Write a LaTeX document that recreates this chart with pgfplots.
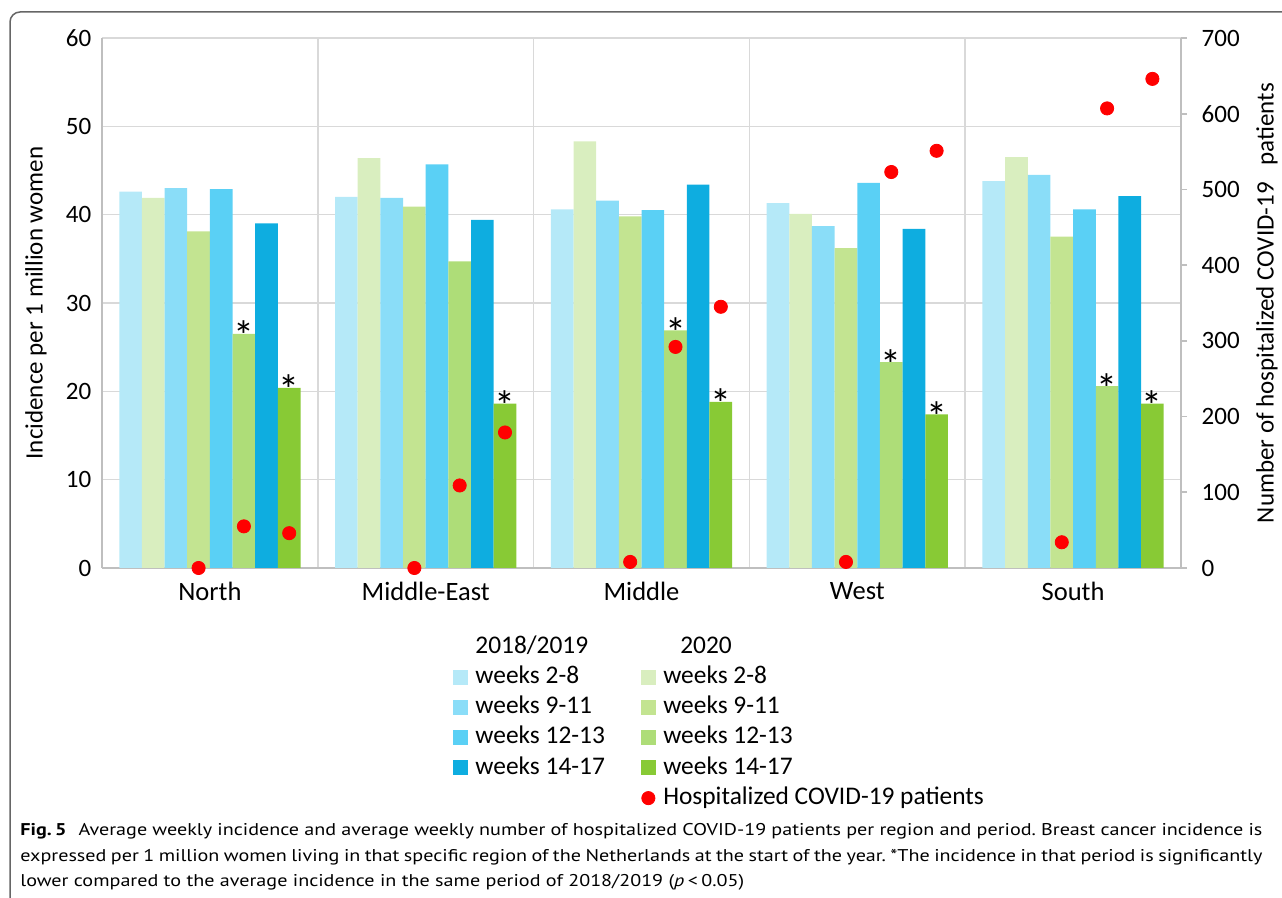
\documentclass[border=0pt]{standalone}
\usepackage{graphicx}
\usepackage{pgfplots}
\pgfplotsset{compat=1.18}
\usepackage{fontspec}
\setmainfont{Carlito}
\newfontfamily\capfont{PT Sans}
\definecolor{bA}{HTML}{B5E9F8}
\definecolor{gA}{HTML}{D9EEBF}
\definecolor{bB}{HTML}{8ADDF8}
\definecolor{gB}{HTML}{C3E491}
\definecolor{bC}{HTML}{5AD0F5}
\definecolor{gC}{HTML}{AEDD78}
\definecolor{bD}{HTML}{0EADE0}
\definecolor{gD}{HTML}{88CA35}
\definecolor{gridgray}{HTML}{D9D9D9}
\definecolor{axgray}{HTML}{BFBFBF}
\newcommand{\cf}{\fontsize{12.5}{15}\selectfont}
\newcommand{\lf}{\fontsize{12.7}{15}\selectfont}
\pgfplotsset{
  sqleg/.style={legend image code/.code={\fill[##1,draw=none] (0pt,-3.75pt) rectangle (7.5pt,3.75pt);}},
  star/.style={nodes near coords, point meta=explicit symbolic,
    every node near coord/.append style={font=\fontsize{21}{21}\selectfont, anchor=base, yshift=-8.5pt, text=black, inner sep=0pt}},
}
\begin{document}
\frenchspacing
\begin{tikzpicture}[x=0.5pt,y=-0.5pt]
\useasboundingbox (0,0) rectangle (1282,898);
\begin{scope}
\clip (0,0) rectangle (1282,898);
\draw[draw=black!60, line width=0.75pt, rounded corners=5pt] (10,12) rectangle (1320,940);
\end{scope}
\coordinate (axsw) at (102,568);
\begin{axis}[
  at={(axsw)}, anchor=south west, scale only axis,
  width=539.5pt, height=265pt,
  xmin=-0.5, xmax=4.5, ymin=0, ymax=60,
  ybar, bar width=0.105,
  xtick={0,1,2,3,4}, xticklabels={North,Middle-East,Middle,West,South},
  minor xtick={-0.5,0.5,1.5,2.5,3.5,4.5},
  xminorgrids, ymajorgrids, xmajorgrids=false,
  ytick={0,10,...,60},
  major tick length=0pt, minor tick length=0pt,
  axis x line*=bottom, axis y line*=left,
  axis line style={draw=axgray, line width=0.9pt},
  grid style={draw=gridgray, line width=0.8pt},
  minor grid style={draw=gridgray, line width=0.8pt},
  tick label style={font=\cf},
  xticklabel style={font=\fontsize{13.25}{15}\selectfont, yshift=-3.5pt},
  yticklabel style={xshift=-1.8pt},
  /pgf/number format/assume math mode=true,
  ylabel={Incidence per 1 million women},
  every axis y label/.style={at={(axis description cs:-0.0612,0.5)}, rotate=90, anchor=center, font=\cf},
  legend columns=2,
  legend cell align=left,
  legend style={draw=none, fill=none, inner sep=0pt, outer sep=0pt,
    at={(axis description cs:0.3253,-0.1208)}, anchor=north west,
    font=\lf, row sep=0pt, column sep=0pt,
    nodes={inner sep=1.5pt, text height=9.1pt, text depth=3pt},
    /tikz/every odd column/.append style={column sep=2.2pt},
    /tikz/every even column/.append style={column sep=16.5pt}},
]
\addlegendimage{empty legend}\addlegendentry{2018/2019}
\addlegendimage{empty legend}\addlegendentry{\hspace{8.5pt}2020}
\addplot[fill=bA, draw=none, bar shift=-0.3675, sqleg] coordinates {(0,42.6) (1,42.0) (2,40.6) (3,41.3) (4,43.8)};
\addlegendentry{weeks 2-8}
\addplot[fill=gA, draw=none, bar shift=-0.2625, sqleg] coordinates {(0,41.9) (1,46.4) (2,48.3) (3,40.1) (4,46.5)};
\addlegendentry{weeks 2-8}
\addplot[fill=bB, draw=none, bar shift=-0.1575, sqleg] coordinates {(0,43.0) (1,41.9) (2,41.6) (3,38.7) (4,44.5)};
\addlegendentry{weeks 9-11}
\addplot[fill=gB, draw=none, bar shift=-0.0525, sqleg] coordinates {(0,38.1) (1,40.9) (2,39.8) (3,36.2) (4,37.5)};
\addlegendentry{weeks 9-11}
\addplot[fill=bC, draw=none, bar shift=0.0525, sqleg] coordinates {(0,42.9) (1,45.7) (2,40.5) (3,43.6) (4,40.6)};
\addlegendentry{weeks 12-13}
\addplot[fill=gC, draw=none, bar shift=0.1575, sqleg, star] table[x=x, y=y, meta=s] {
x y s
0 26.5 *
1 34.7 {}
2 26.9 *
3 23.3 *
4 20.6 *
};
\addlegendentry{weeks 12-13}
\addplot[fill=bD, draw=none, bar shift=0.2625, sqleg] coordinates {(0,39.0) (1,39.4) (2,43.4) (3,38.4) (4,42.1)};
\addlegendentry{weeks 14-17}
\addplot[fill=gD, draw=none, bar shift=0.3675, sqleg, star] table[x=x, y=y, meta=s] {
x y s
0 20.4 *
1 18.6 *
2 18.8 *
3 17.4 *
4 18.6 *
};
\addlegendentry{weeks 14-17}
\addlegendimage{empty legend}\addlegendentry{}
\addlegendimage{legend image code/.code={\fill[red] (3.75pt,0pt) circle (3.3pt);}}
\addlegendentry{Hospitalized COVID-19 patients}
\end{axis}
\begin{axis}[
  at={(axsw)}, anchor=south west, scale only axis,
  width=539.5pt, height=265pt,
  xmin=-0.5, xmax=4.5, ymin=0, ymax=700,
  axis x line=none, axis y line*=right,
  ytick={0,100,...,700},
  tick align=outside, major tick length=3pt,
  axis line style={draw=axgray, line width=0.9pt},
  ytick style={draw=axgray, line width=0.9pt},
  tick label style={font=\cf},
  yticklabel style={xshift=3.8pt},
  /pgf/number format/assume math mode=true,
  ylabel={Number of hospitalized COVID-19\hspace{0.45em} patients},
  every axis y label/.style={at={(axis description cs:1.0797,0.5)}, rotate=90, anchor=center, font=\cf},
  clip=false,
]
\addplot[only marks, mark=*, mark size=3.3pt, color=red] coordinates {
(-0.0525,0) (0.1575,55) (0.3675,46)
(0.9475,0) (1.1575,109) (1.3675,179)
(1.9475,8) (2.1575,292) (2.3675,345)
(2.9475,8) (3.1575,523) (3.3675,551)
(3.9475,34) (4.1575,607) (4.3675,646)};
\end{axis}
\node[anchor=north west, inner sep=0pt] at (20,823) {\scalebox{1.184}[1]{\parbox[t]{524.5pt}{\capfont\fontsize{8.5}{12.8}\selectfont\frenchspacing
\noindent\textbf{Fig.\,5}\hspace{0.6em}Average weekly incidence and average weekly number of hospitalized COVID-19 patients per region and period. Breast cancer incidence is\linebreak expressed per 1 million women living in that specific region of the Netherlands at the start of the year. *The incidence in that period is significantly\linebreak lower compared to the average incidence in the same period of 2018/2019 (\textit{p}\,<\,0.05)}}};
\end{tikzpicture}
\end{document}
